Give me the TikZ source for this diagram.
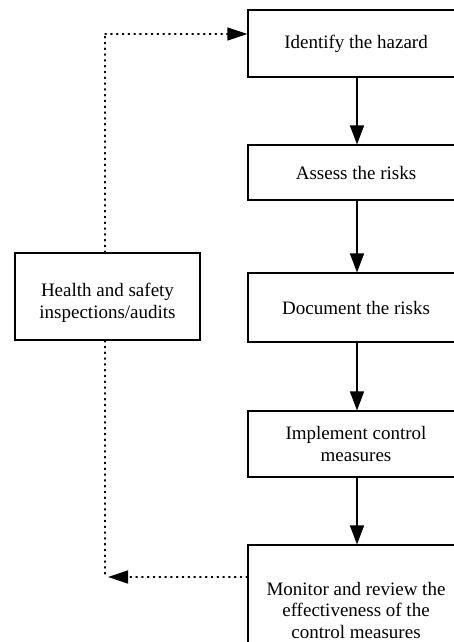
\documentclass[tikz,border=0pt]{standalone}
\usepackage{fontspec}
\setmainfont{Liberation Serif}
\usetikzlibrary{arrows.meta}
\begin{document}
\begin{tikzpicture}[x=1pt,y=-1pt,
  box/.style={draw, line width=1.1pt, minimum width=216pt, align=center, inner sep=0pt,
              font=\fontsize{19}{21.5}\selectfont},
  txt/.style={align=center, inner sep=0pt, font=\fontsize{19}{22}\selectfont},
  flow/.style={line width=1.4pt, -{Triangle[length=19pt,width=14pt]}},
  dots/.style={line width=1.3pt, dash pattern=on 1.3pt off 4.5pt, line cap=round},
  dotarrow/.style={dots, -{Triangle[length=20pt,width=13pt]}}]
\useasboundingbox (0,0) rectangle (454,642);
\clip (0,0) rectangle (454,642);
\node[box, minimum height=67pt] (b1) at (356,43.5) {Identify the hazard};
\node[box, minimum height=55pt] (b2) at (356,172.5) {Assess the risks};
\node[box, minimum height=69pt] (b3) at (356,307.5) {Document the risks};
\node[box, minimum height=66pt] (b4) at (356,444) {Implement control\\measures};
\node[box, minimum height=130pt, text depth=0pt] (b5) at (356,610) {Monitor and review the\\effectiveness of the\\control measures};
\node[box, minimum width=185pt, minimum height=87pt] (hs) at (107.5,296.5) {};
\node[txt] (hst) at ([yshift=-6pt]hs.center) {Health and safety\\inspections/audits};
\coordinate (tc) at (105,34);
\coordinate (bc) at (105,577);
\draw[flow] (b1.south -| 357,0) -- (b2.north -| 357,0);
\draw[flow] (b2.south -| 357,0) -- (b3.north -| 357,0);
\draw[flow] (b3.south -| 357,0) -- (b4.north -| 357,0);
\draw[flow] (b4.south -| 357,0) -- (b5.north -| 357,0);
\draw[dots] (hs.north -| tc) -- (tc);
\draw[dotarrow] (tc) -- (tc -| b1.west);
\draw[dots] (hs.south -| bc) -- (bc);
\draw[dotarrow] (bc -| b5.west) -- (108,577);
\end{tikzpicture}
\end{document}
